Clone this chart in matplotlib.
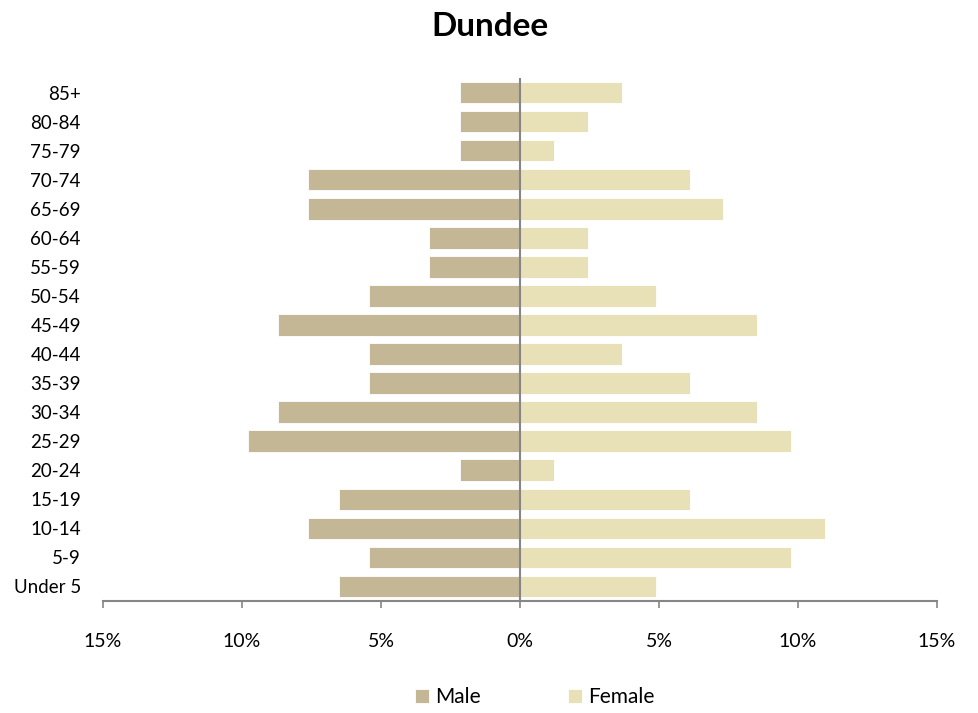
import matplotlib.pyplot as plt
from matplotlib.ticker import FuncFormatter

MALE_COLOR = "#C4B796"
FEMALE_COLOR = "#E8E0B6"
AXIS_GRAY = "#868686"

age_groups = [
    "Under 5", "5-9", "10-14", "15-19", "20-24", "25-29", "30-34", "35-39",
    "40-44", "45-49", "50-54", "55-59", "60-64", "65-69", "70-74", "75-79",
    "80-84", "85+",
]
male_pct = [6.52, 5.43, 7.61, 6.52, 2.17, 9.78, 8.70, 5.43,
            5.43, 8.70, 5.43, 3.26, 3.26, 7.61, 7.61, 2.17, 2.17, 2.17]
female_pct = [4.88, 9.76, 10.98, 6.10, 1.22, 9.76, 8.54, 6.10,
              3.66, 8.54, 4.88, 2.44, 2.44, 7.32, 6.10, 1.22, 2.44, 3.66]
x_ticks = [-15, -10, -5, 0, 5, 10, 15]

plt.rcParams["font.family"] = ["Lato", "DejaVu Sans"]

fig = plt.figure(figsize=(9.79, 7.13), dpi=100)
ax = fig.add_axes([103 / 979, 1 - 601 / 713, (937 - 103) / 979, (601 - 78) / 713])

y = list(range(len(age_groups)))
ax.barh(y, [-v for v in male_pct], height=0.74, color=MALE_COLOR,
        edgecolor="white", linewidth=0.6, label="Male")
ax.barh(y, female_pct, height=0.74, color=FEMALE_COLOR,
        edgecolor="white", linewidth=0.6, label="Female")
ax.axvline(0, color=AXIS_GRAY, linewidth=1.5, zorder=3)

ax.set_xlim(-15, 15)
ax.set_ylim(-0.5, len(age_groups) - 0.5)
ax.set_xticks(x_ticks)
ax.xaxis.set_major_formatter(FuncFormatter(lambda v, _: f"{abs(v):.0f}%"))
ax.set_yticks(y)
ax.set_yticklabels(age_groups)

for side in ["top", "right", "left"]:
    ax.spines[side].set_visible(False)
ax.spines["bottom"].set_color(AXIS_GRAY)
ax.spines["bottom"].set_linewidth(1.5)
ax.tick_params(axis="x", direction="out", length=5, width=1.2, color=AXIS_GRAY,
               labelsize=14, pad=18)
ax.tick_params(axis="y", length=0, labelsize=13.5, pad=16)

fig.text(0.5, 1 - 27 / 713, "Dundee",
         ha="center", va="center", fontsize=24, fontweight="bold")

fig.legend(loc="center", bbox_to_anchor=(535 / 979, 1 - 697 / 713), ncol=2,
           frameon=False, fontsize=15, handlelength=0.65, handleheight=0.65,
           handletextpad=0.3, columnspacing=4.2)

fig.savefig("out.png", dpi=100)
